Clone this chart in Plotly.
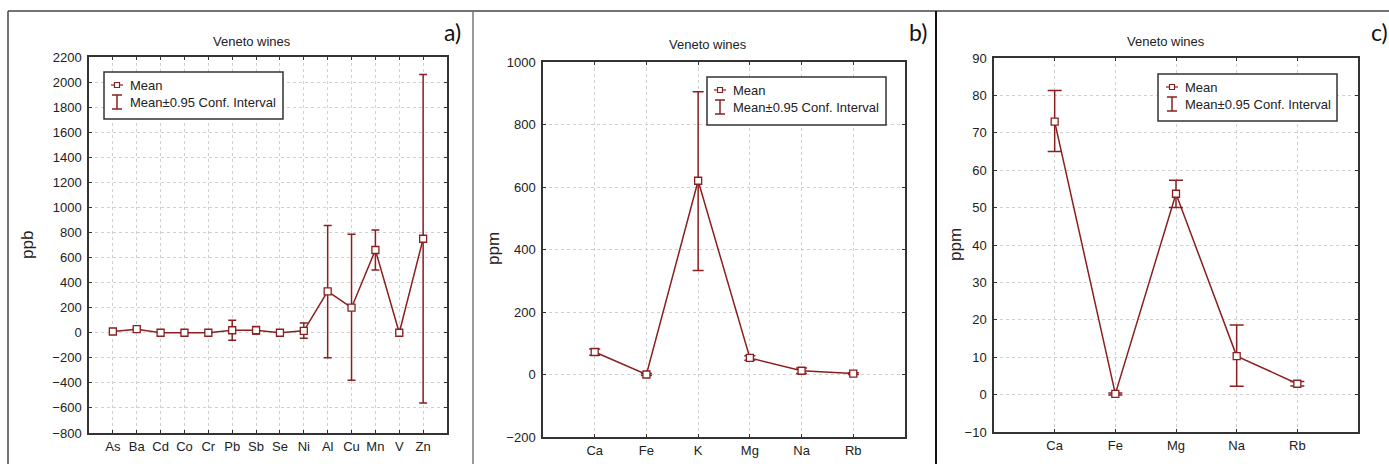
import plotly.graph_objects as go

W, H = 1389, 464

# ---------------- data ----------------
cats_a = ["As", "Ba", "Cd", "Co", "Cr", "Pb", "Sb", "Se", "Ni", "Al", "Cu", "Mn", "V", "Zn"]
mean_a = [10, 28, 0, 0, 0, 20, 20, 0, 15, 330, 200, 660, 0, 750]
low_a = [-10, 20, -2, -2, -2, -60, -10, -2, -45, -200, -380, 500, -2, -560]
high_a = [22, 36, 2, 2, 2, 100, 50, 2, 78, 855, 785, 820, 2, 2060]

cats_b = ["Ca", "Fe", "K", "Mg", "Na", "Rb"]
mean_b = [72, 0, 620, 53, 12, 3]
low_b = [62, -3, 333, 46, 3, 0]
high_b = [82, 3, 905, 60, 21, 6]

cats_c = ["Ca", "Fe", "Mg", "Na", "Rb"]
mean_c = [73, 0.2, 53.7, 10.3, 2.9]
low_c = [65, -0.1, 50, 2.2, 2.3]
high_c = [81.3, 0.4, 57.3, 18.6, 3.5]

yticks_a = list(range(-800, 2201, 200))
yticks_b = list(range(-200, 1001, 200))
yticks_c = list(range(-10, 91, 10))

panel_titles = ["Veneto wines", "Veneto wines", "Veneto wines"]
panel_labels = ["a)", "b)", "c)"]
y_titles = ["ppb", "ppm", "ppm"]
legend_texts = ["Mean", "Mean\u00b10.95 Conf. Interval"]

RED = "#8b1f1f"
FONT = "Liberation Sans, Arial, sans-serif"


def px(x):
    return x / W


def py(y):
    return 1 - y / H


# plot area rectangles in pixels: left, right, top, bottom
areas = [(89, 447, 57, 433), (543, 905, 62, 437), (994, 1358, 58, 432)]
datasets = [
    (cats_a, mean_a, low_a, high_a, yticks_a, [-800, 2200], 4, 7),
    (cats_b, mean_b, low_b, high_b, yticks_b, [-200, 1000], 5.5, 7),
    (cats_c, mean_c, low_c, high_c, yticks_c, [-10, 90], 7, 7),
]

fig = go.Figure()
layout = dict(
    width=W, height=H, margin=dict(l=0, r=0, t=0, b=0, autoexpand=False),
    paper_bgcolor="white", plot_bgcolor="white", showlegend=False,
    font=dict(family=FONT, color="#222", size=12),
)

shapes = []
annotations = []

for i, ((cats, m, lo, hi, yt, yr, capw, msize), (L, R, T, B)) in enumerate(zip(datasets, areas)):
    n = i + 1
    xa = "x" if n == 1 else f"x{n}"
    ya = "y" if n == 1 else f"y{n}"
    xs = list(range(1, len(cats) + 1))
    fig.add_trace(go.Scatter(
        x=xs, y=m, xaxis=xa, yaxis=ya, mode="lines+markers",
        line=dict(color=RED, width=1.5),
        marker=dict(symbol="square", size=msize, color="white", line=dict(color=RED, width=1.3)),
        error_y=dict(type="data", symmetric=False,
                     array=[h - v for h, v in zip(hi, m)],
                     arrayminus=[v - l for v, l in zip(m, lo)],
                     color=RED, thickness=1.5, width=capw),
    ))
    axcommon = dict(showline=True, linecolor="#333", linewidth=1.5, mirror="ticks",
                    ticks="inside", ticklen=3, tickcolor="#333",
                    showgrid=True, gridcolor="#d0d0d0", griddash="dot", gridwidth=1,
                    zeroline=False, tickfont=dict(family=FONT, size=13, color="#222"))
    layout["xaxis" if n == 1 else f"xaxis{n}"] = dict(
        axcommon, domain=[px(L), px(R)], anchor=ya, range=[0, len(cats) + 1],
        tickmode="array", tickvals=xs, ticktext=cats, ticklabelstandoff=1)
    layout["yaxis" if n == 1 else f"yaxis{n}"] = dict(
        axcommon, domain=[py(B), py(T)], anchor=xa, range=yr, ticklabelstandoff=3,
        tickmode="array", tickvals=yt, ticktext=[str(v).replace("-", "\u2212") for v in yt])

# panel titles, labels, y-axis titles
title_pos = [(252, 41), (708, 45), (1166, 41)]
label_pos = [(452, 32), (918, 32), (1379, 32)]
ytitle_pos = [(27, 245), (493, 249), (955, 245)]
for i in range(3):
    annotations.append(dict(x=px(title_pos[i][0]), y=py(title_pos[i][1]), xref="paper", yref="paper",
                            xanchor="center", yanchor="middle",
                            text=panel_titles[i], showarrow=False, font=dict(size=13, family=FONT, color="#222")))
    annotations.append(dict(x=px(label_pos[i][0]), y=py(label_pos[i][1]), xref="paper", yref="paper",
                            xanchor="center", yanchor="middle",
                            text=panel_labels[i], showarrow=False, font=dict(size=23, family="Lato, Open Sans, sans-serif", color="#111")))
    annotations.append(dict(x=px(ytitle_pos[i][0]), y=py(ytitle_pos[i][1]), xref="paper", yref="paper",
                            xanchor="center", yanchor="middle",
                            text=y_titles[i], showarrow=False, textangle=-90, font=dict(size=17, family=FONT, color="#222")))

# legends (left, right, top, bottom, symbol x, text x, row1 y, row2 y)
legends = [(104, 283, 72, 119, 117, 128, 85, 102),
           (707, 886, 77, 125, 720, 731, 90, 107),
           (1158, 1337, 74, 121, 1172, 1183, 87, 104)]
for (L, R, T, B, sx, tx, r1, r2) in legends:
    shapes.append(dict(type="rect", xref="paper", yref="paper", x0=px(L), x1=px(R), y0=py(B), y1=py(T),
                       line=dict(color="#333", width=1.5), fillcolor="white", layer="above"))
    shapes.append(dict(type="line", xref="paper", yref="paper", x0=px(sx - 6), x1=px(sx + 6), y0=py(r1), y1=py(r1),
                       line=dict(color=RED, width=1.2), layer="above"))
    shapes.append(dict(type="rect", xref="paper", yref="paper", x0=px(sx - 2.5), x1=px(sx + 2.5), y0=py(r1 + 2.5), y1=py(r1 - 2.5),
                       line=dict(color=RED, width=1.2), fillcolor="white", layer="above"))
    shapes.append(dict(type="line", xref="paper", yref="paper", x0=px(sx), x1=px(sx), y0=py(r2 + 7), y1=py(r2 - 7),
                       line=dict(color=RED, width=1.5), layer="above"))
    for yy in (r2 - 7, r2 + 7):
        shapes.append(dict(type="line", xref="paper", yref="paper", x0=px(sx - 5), x1=px(sx + 5), y0=py(yy), y1=py(yy),
                           line=dict(color=RED, width=1.5), layer="above"))
    for txt, yy in zip(legend_texts, (r1, r2)):
        annotations.append(dict(x=px(tx), y=py(yy), xref="paper", yref="paper", xanchor="left", yanchor="middle",
                                text=txt, showarrow=False, font=dict(size=13, family=FONT, color="#222")))

# outer frames
shapes.append(dict(type="line", xref="paper", yref="paper", x0=px(8), x1=1, y0=py(11), y1=py(11),
                   line=dict(color="#444", width=1.5)))
shapes.append(dict(type="line", xref="paper", yref="paper", x0=px(8), x1=px(8), y0=py(11), y1=0,
                   line=dict(color="#444", width=1.5)))
shapes.append(dict(type="line", xref="paper", yref="paper", x0=px(473), x1=px(473), y0=py(11), y1=0,
                   line=dict(color="#777", width=1.5)))
shapes.append(dict(type="line", xref="paper", yref="paper", x0=px(936), x1=px(936), y0=py(11), y1=0,
                   line=dict(color="#111", width=2)))

layout["shapes"] = shapes
layout["annotations"] = annotations
fig.update_layout(**layout)
fig.write_html("out.html")
